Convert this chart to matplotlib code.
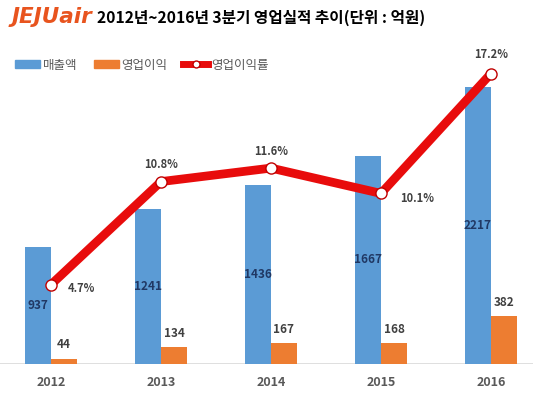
import matplotlib
matplotlib.use('Agg')
import matplotlib.pyplot as plt
from matplotlib.lines import Line2D
from matplotlib.patches import Patch

plt.rcParams['font.family'] = ['Noto Sans CJK KR', 'DejaVu Sans']

years = ['2012', '2013', '2014', '2015', '2016']
sales = [937, 1241, 1436, 1667, 2217]
profit = [44, 134, 167, 168, 382]
margin = [4.7, 10.8, 11.6, 10.1, 17.2]

blue = '#5b9bd5'
orange = '#ed7d31'
red = '#e80c0c'

W, H = 533, 397
fig = plt.figure(figsize=(W / 100, H / 100), dpi=100)

# axes spans full width, baseline at y=364 px, top at 60 px
ax = fig.add_axes([0, (H - 364) / H, 1, 304 / H])
ax2 = ax.twinx()

x = list(range(len(years)))
bw = 0.236
ax.bar([i - bw / 2 for i in x], sales, bw, color=blue, zorder=2)
ax.bar([i + bw / 2 for i in x], profit, bw, color=orange, zorder=2)

ax.set_xlim(-51 / 110, (W - 51) / 110)
ax.set_ylim(0, 2432)
ax2.set_ylim(0, 18.0)

for i, v in enumerate(sales):
    ax.text(i - bw / 2, v / 2, str(v), ha='center', va='center', fontsize=8.5,
            color='#203864', fontweight='bold', zorder=3)
for i, v in enumerate(profit):
    ax.text(i + bw / 2, v + 110, str(v), ha='center', va='center', fontsize=8.5,
            color='#404040', fontweight='bold', zorder=3)

ax2.plot(x, margin, color=red, lw=6.3, marker='o', ms=8, mfc='white',
         mec='#c00000', mew=1, zorder=4, solid_capstyle='butt')

# percent labels: offsets in points
offs = [(22, -3), (0, 12), (0, 12), (26, -4), (0, 14)]
for i, (v, o) in enumerate(zip(margin, offs)):
    ax2.annotate(f'{v}%', (i, v), xytext=o, textcoords='offset points',
                 ha='center', va='center', fontsize=8, fontweight='bold',
                 color='#404040', zorder=5)

for a in (ax, ax2):
    for s in a.spines.values():
        s.set_visible(False)
    a.set_yticks([])
ax.axhline(0, color='#d9d9d9', lw=1.2, zorder=1)
ax.set_xticks(x)
ax.set_xticklabels(years, fontsize=9, fontweight='bold', color='#595959')
ax.tick_params(axis='x', length=0, pad=9)

# header
fig.text(12 / W, 1 - 17 / H, 'JEJUair', fontsize=15.5, fontweight='heavy',
         fontstyle='italic', color='#e8541e', va='center', ha='left',
         family=['DejaVu Sans'])
fig.text(97 / W, 1 - 18 / H, '2012년~2016년 3분기 영업실적 추이(단위 : 억원)',
         fontsize=11.3, fontweight='bold', color='black', va='center', ha='left')

handles = [Patch(color=blue), Patch(color=orange),
           Line2D([], [], color=red, lw=5, marker='o', ms=5, mfc='white', mec='#c00000')]
labels = ['매출액', '영업이익', '영업이익률']
fig.legend(handles, labels, loc='center left', bbox_to_anchor=(4 / W, 1 - 65 / H),
           ncol=3, frameon=False, fontsize=9, handlelength=2.0, handleheight=0.55,
           handletextpad=0.2, columnspacing=1.3, labelcolor='#595959')

fig.savefig('out.png', dpi=100)
